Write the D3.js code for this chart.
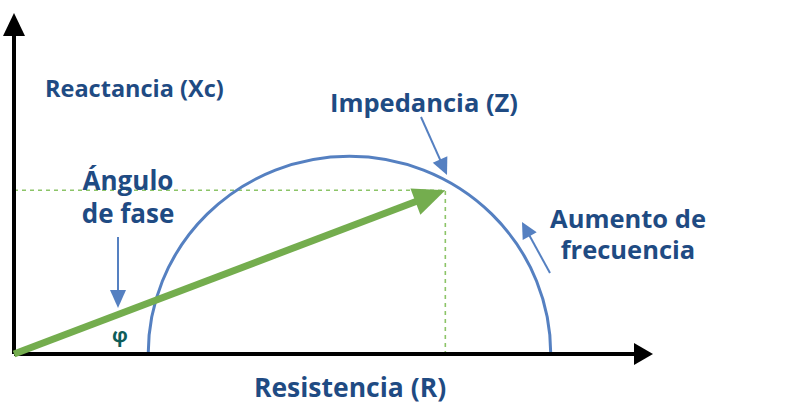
<!DOCTYPE html>
<html>
<head>
<meta charset="utf-8">
<script src="https://cdn.jsdelivr.net/npm/d3@7"></script>
<style>
  body { margin: 0; background: #fff; }
  text { font-family: "Open Sans", sans-serif; }
</style>
</head>
<body>
<div id="chart"></div>
<script>
// Diagram values (arbitrary units, 0-100 on each axis)
const axisMax = [100, 100];               // [R, Xc]
const resistanceIntercepts = [21, 84];    // high / low frequency intercepts
const peakReactance = [58];               // top of the semicircle
const impedancePoint = [67.5, 48];        // [R, Xc] of Z
const labels = ["Reactancia (Xc)", "Impedancia (Z)", "Ángulo", "de fase",
                "Aumento de", "frecuencia", "Resistencia (R)", "φ"];

const width = 800;
const height = 416;

const svg = d3.select("#chart")
  .append("svg")
  .attr("width", width)
  .attr("height", height);

const x = d3.scaleLinear().domain([0, axisMax[0]]).range([14, 653]);
const y = d3.scaleLinear().domain([0, axisMax[1]]).range([354, 13]);

const labelColor = "#1f4b83";
const blue = "#5580c1";
const green = "#74ad4e";

// draws a filled triangle head pointing at (tx, ty) coming from (fx, fy)
function head(g, fx, fy, tx, ty, len, half, color) {
  const a = Math.atan2(ty - fy, tx - fx);
  const bx = tx - len * Math.cos(a), by = ty - len * Math.sin(a);
  const px = -Math.sin(a) * half, py = Math.cos(a) * half;
  g.append("path")
    .attr("d", `M${tx},${ty}L${bx + px},${by + py}L${bx - px},${by - py}Z`)
    .attr("fill", color);
  return [bx, by];
}

function arrow(g, fx, fy, tx, ty, len, half, w, color) {
  const a = Math.atan2(ty - fy, tx - fx);
  g.append("line")
    .attr("x1", fx).attr("y1", fy)
    .attr("x2", tx - (len - 2) * Math.cos(a)).attr("y2", ty - (len - 2) * Math.sin(a))
    .attr("stroke", color)
    .attr("stroke-width", w);
  head(g, fx, fy, tx, ty, len, half, color);
}

// dashed guides to Z
svg.append("path")
  .attr("d", `M${x(0)},${y(impedancePoint[1])}H${x(impedancePoint[0])}V${y(0)}`)
  .attr("fill", "none")
  .attr("stroke", "#8cc468")
  .attr("stroke-width", 1.6)
  .attr("stroke-dasharray", "4,4");

// semicircle
const rx = x(resistanceIntercepts[1]) - x((resistanceIntercepts[0] + resistanceIntercepts[1]) / 2);
const ry = y(0) - y(peakReactance[0]);
svg.append("path")
  .attr("d", `M${x(resistanceIntercepts[0])},${y(0)}A${rx},${ry} 0 0 1 ${x(resistanceIntercepts[1])},${y(0)}`)
  .attr("fill", "none")
  .attr("stroke", blue)
  .attr("stroke-width", 3);

// axes
const axes = svg.append("g");
arrow(axes, x(0), y(0), x(0), y(axisMax[1]), 23, 11, 4, "#000");
arrow(axes, x(0), y(0), x(axisMax[0]), y(0), 19, 11, 4, "#000");

// impedance vector
arrow(svg, x(0), y(0), x(impedancePoint[0]), y(impedancePoint[1]), 32, 14, 7, green);

// annotation arrows
arrow(svg, 118, 237, 118, 308, 18, 8, 2, blue);
arrow(svg, 421, 117, 447, 175, 17, 8, 2, blue);
arrow(svg, 550, 273, 522, 222, 16, 8, 2, blue);

// labels
const txt = (s, tx, ty, size, anchor) => svg.append("text")
  .attr("x", tx).attr("y", ty)
  .attr("text-anchor", anchor || "start")
  .attr("font-size", size)
  .attr("font-weight", 700)
  .attr("fill", labelColor)
  .text(s);

txt(labels[0], 45, 97, 23.5);
txt(labels[1], 330, 112, 25.5);
txt(labels[2], 128, 190, 26, "middle");
txt(labels[3], 128, 223, 26, "middle");
txt(labels[4], 628, 228, 25.5, "middle");
txt(labels[5], 628, 259, 25.5, "middle");
txt(labels[6], 350, 397, 26.5, "middle");
txt(labels[7], 120, 342, 20, "middle").attr("fill", "#0e5d5a");
</script>
</body>
</html>
